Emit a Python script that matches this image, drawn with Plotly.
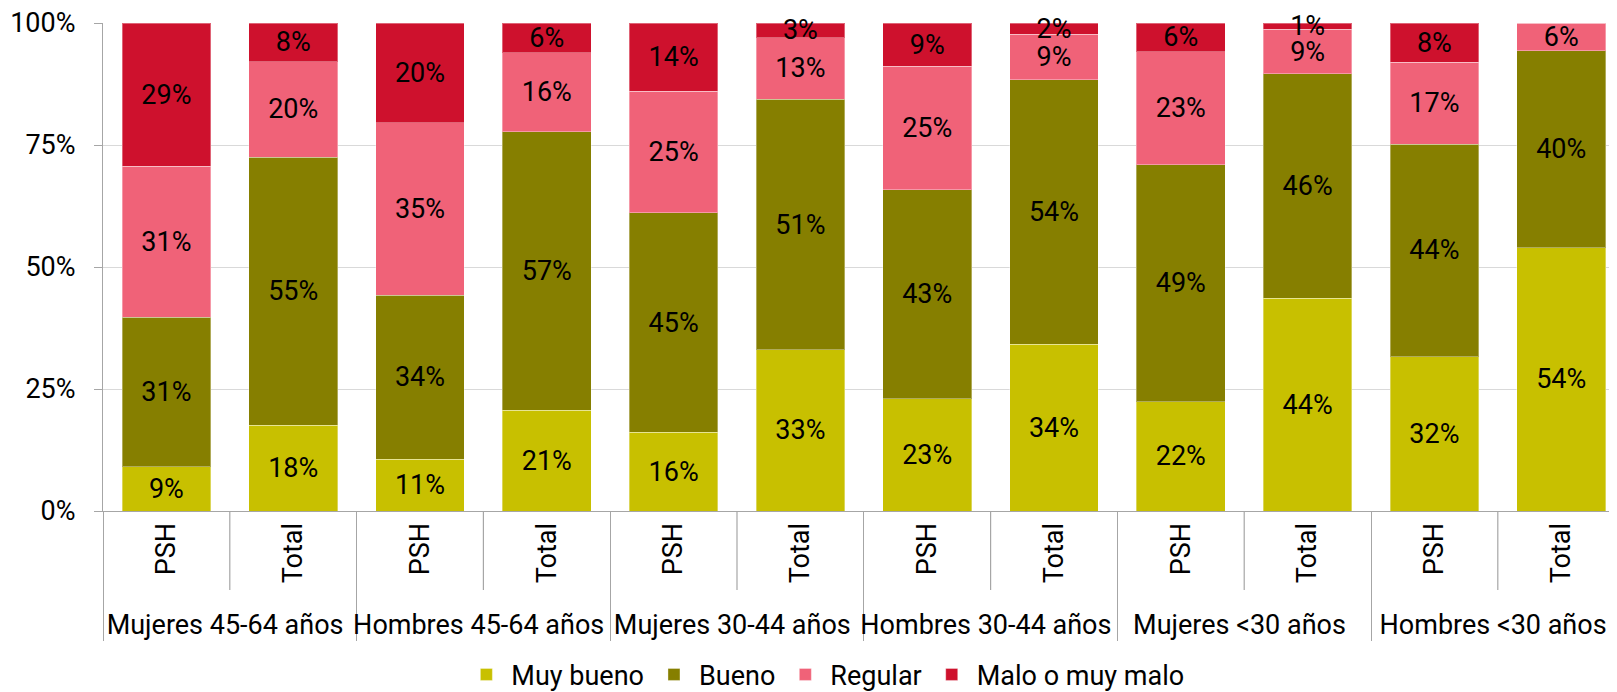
import plotly.graph_objects as go

# groups and sub-categories on the x axis
groups = ['Mujeres 45-64 años', 'Hombres 45-64 años', 'Mujeres 30-44 años',
          'Hombres 30-44 años', 'Mujeres <30 años', 'Hombres <30 años']
subcats = ['PSH', 'Total']

# share of each rating (%), order: PSH, Total for each group
muy_bueno = [9.1, 17.6, 10.6, 20.6, 16.1, 33.0, 23.0, 34.2, 22.4, 43.6, 31.6, 53.9]
bueno = [30.6, 54.9, 33.6, 57.1, 45.0, 51.4, 42.8, 54.2, 48.6, 46.0, 43.6, 40.4]
regular = [30.9, 19.6, 35.4, 16.2, 24.9, 12.6, 25.3, 9.3, 23.1, 9.1, 16.8, 5.7]
malo = [29.4, 7.9, 20.4, 6.1, 14.0, 3.0, 8.9, 2.3, 5.9, 1.3, 8.0, 0.0]

x_groups = [g for g in groups for _ in subcats]
x_subs = [s for _ in groups for s in subcats]

series = [
    ('Muy bueno', muy_bueno, '#C8C000'),
    ('Bueno', bueno, '#867F00'),
    ('Regular', regular, '#F06278'),
    ('Malo o muy malo', malo, '#CE112D'),
]

fig = go.Figure()
for name, vals, color in series:
    fig.add_trace(go.Bar(
        name=name,
        x=[x_groups, x_subs], y=vals,
        marker={'color': color, 'line': {'color': 'rgba(255,255,255,0.35)', 'width': 1}},
        text=[f'{v:.0f}%' if v > 0 else '' for v in vals],
        textposition='inside', insidetextanchor='middle', textangle=0,
        constraintext='none', cliponaxis=False,
        textfont={'color': 'black', 'size': 27},
        hoverinfo='skip',
    ))

# thin separators between PSH and Total inside each group
for i in range(len(groups)):
    fig.add_shape(type='line', xref='x', yref='paper',
                  x0=2 * i + 0.5, x1=2 * i + 0.5, y0=0, y1=-0.162,
                  line={'color': '#A6A6A6', 'width': 1.2})

# the page body has an 8px margin, so the figure is sized and offset for it
fig.update_layout(
    barmode='stack', bargap=0.3,
    template='plotly_white',
    font={'family': 'Roboto', 'size': 27, 'color': 'black'},
    width=1609, height=684,
    margin={'l': 95, 'r': 0, 't': 15, 'b': 181},
    legend={'orientation': 'h', 'xref': 'container', 'x': 0.508, 'xanchor': 'center',
            'yref': 'container', 'y': 0.025, 'yanchor': 'middle',
            'font': {'size': 27}, 'itemwidth': 40, 'traceorder': 'normal'},
    showlegend=True,
)

fig.update_xaxes(
    type='multicategory', range=[-0.5, 11.44],
    tickangle=-90, showline=True, linecolor='#A6A6A6', linewidth=1.2,
    showgrid=False, ticks='outside', ticklen=8, tickcolor='rgba(0,0,0,0)',
    showdividers=True, dividercolor='#A6A6A6', dividerwidth=1.2,
    tickfont={'size': 27},
)
fig.update_yaxes(
    range=[0, 100], dtick=25, ticksuffix='%',
    showline=True, linecolor='#A6A6A6', linewidth=1.2,
    ticks='outside', ticklen=8, tickcolor='#A6A6A6', ticklabelstandoff=13,
    ticklabeloverflow='allow',
    gridcolor='#D9D9D9', gridwidth=1, zeroline=False,
    tickfont={'size': 27},
)

fig.write_html('out.html')
